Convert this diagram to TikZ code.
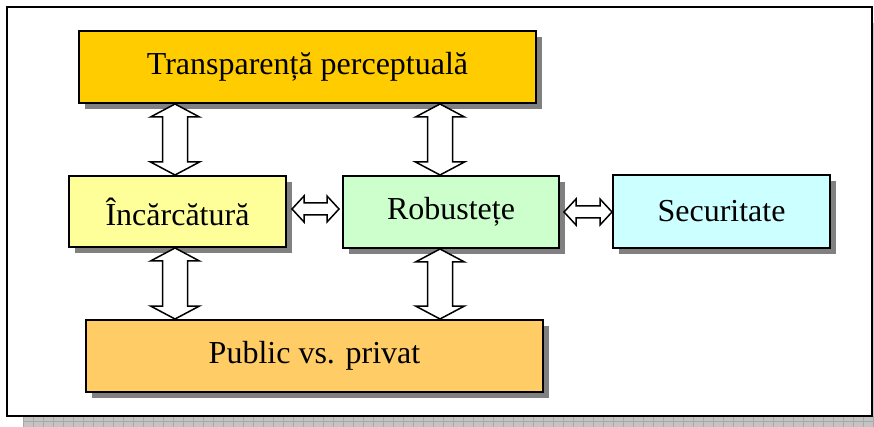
\documentclass[tikz,border=0pt]{standalone}
\usepackage{fontspec}
\setmainfont{Liberation Serif}
\usetikzlibrary{calc,shadows}

\definecolor{boxgold}{HTML}{FFCC00}
\definecolor{boxyellow}{HTML}{FFFF99}
\definecolor{boxgreen}{HTML}{CCFFCC}
\definecolor{boxcyan}{HTML}{CCFFFF}
\definecolor{boxorange}{HTML}{FFCC66}
\definecolor{shadowgray}{HTML}{808080}
\definecolor{hatchbg}{HTML}{C4C4C4}
\definecolor{hatchline}{HTML}{A8A8A8}

\tikzset{
  conceptbox/.style={draw=black, line width=2pt, inner sep=0pt,
    font=\fontsize{32}{38}\selectfont,
    drop shadow={shadow xshift=6pt, shadow yshift=-6pt, fill=shadowgray, opacity=1}},
  % white outlined double arrow, upper tip to lower tip
  dblv/.style={draw=black, fill=white, line width=1.5pt, line join=miter,
    to path={let \p1=(\tikztostart), \p2=(\tikztotarget) in
      (\x1,\y1) -- (\x1+24.5pt,\y1-13pt) -- (\x1+12.5pt,\y1-13pt)
      -- (\x1+12.5pt,\y2+13pt) -- (\x1+24.5pt,\y2+13pt) -- (\x1,\y2)
      -- (\x1-24.5pt,\y2+13pt) -- (\x1-12.5pt,\y2+13pt)
      -- (\x1-12.5pt,\y1-13pt) -- (\x1-24.5pt,\y1-13pt) -- cycle}},
  % white outlined double arrow, left tip to right tip
  dblh/.style={draw=black, fill=white, line width=1.5pt, line join=miter,
    to path={let \p1=(\tikztostart), \p2=(\tikztotarget) in
      (\x1,\y1) -- (\x1+12pt,\y1+13pt) -- (\x1+12pt,\y1+6pt)
      -- (\x2-12pt,\y1+6pt) -- (\x2-12pt,\y1+13pt) -- (\x2,\y1)
      -- (\x2-12pt,\y1-13pt) -- (\x2-12pt,\y1-6pt)
      -- (\x1+12pt,\y1-6pt) -- (\x1+12pt,\y1-13pt) -- cycle}},
}

\begin{document}
\begin{tikzpicture}[x=1pt, y=-1pt]
  \useasboundingbox (0,0) rectangle (874,427);

  % hatched shadow of the outer frame
  \fill[hatchbg] (23,416) rectangle (874,427);
  \fill[hatchbg] (872,23) rectangle (874,427);
  \begin{scope}
    \clip (23,416) rectangle (874,427);
    \draw[hatchline, line width=0.6pt, step=10pt, xshift=3pt, yshift=-1pt] (0,400) grid (880,430);
  \end{scope}
  \draw[hatchline, line width=0.6pt] (23,421.5) -- (874,421.5);

  % outer frame
  \draw[line width=2pt, fill=white] (7,7) rectangle (872,416);

  % concept boxes
  \node[conceptbox, fill=boxgold, minimum width=457pt, minimum height=72pt]
    (top) at (307.5,67) {Transparență perceptuală};
  \node[conceptbox, fill=boxyellow, minimum width=217pt, minimum height=71pt]
    (inc) at (177.5,211.5) {Încărcătură};
  \node[conceptbox, fill=boxgreen, minimum width=216pt, minimum height=72pt]
    (rob) at (451,212) {Robustețe};
  \node[conceptbox, fill=boxcyan, minimum width=217pt, minimum height=73pt]
    (sec) at (721.5,211.5) {Securitate};
  \node[conceptbox, fill=boxorange, minimum width=457pt, minimum height=72pt]
    (pub) at (314.5,356) {Public vs. privat};

  % connectors
  \draw[dblv] ([xshift=-2.5pt]inc.north |- top.south) to ([xshift=-2.5pt]inc.north);
  \draw[dblv] ([xshift=-2.5pt]inc.south) to ([xshift=-2.5pt]inc.south |- pub.north);
  \draw[dblv] ([xshift=-11pt]rob.north |- top.south) to ([xshift=-11pt]rob.north);
  \draw[dblv] ([xshift=-11pt]rob.south) to ([xshift=-11pt]rob.south |- pub.north);
  \draw[dblh] ([xshift=5pt,yshift=2.5pt]inc.east) to ([xshift=-3pt,yshift=2.5pt]rob.west);
  \draw[dblh] ([xshift=4pt]rob.east) to ([xshift=0pt]sec.west);
\end{tikzpicture}
\end{document}
